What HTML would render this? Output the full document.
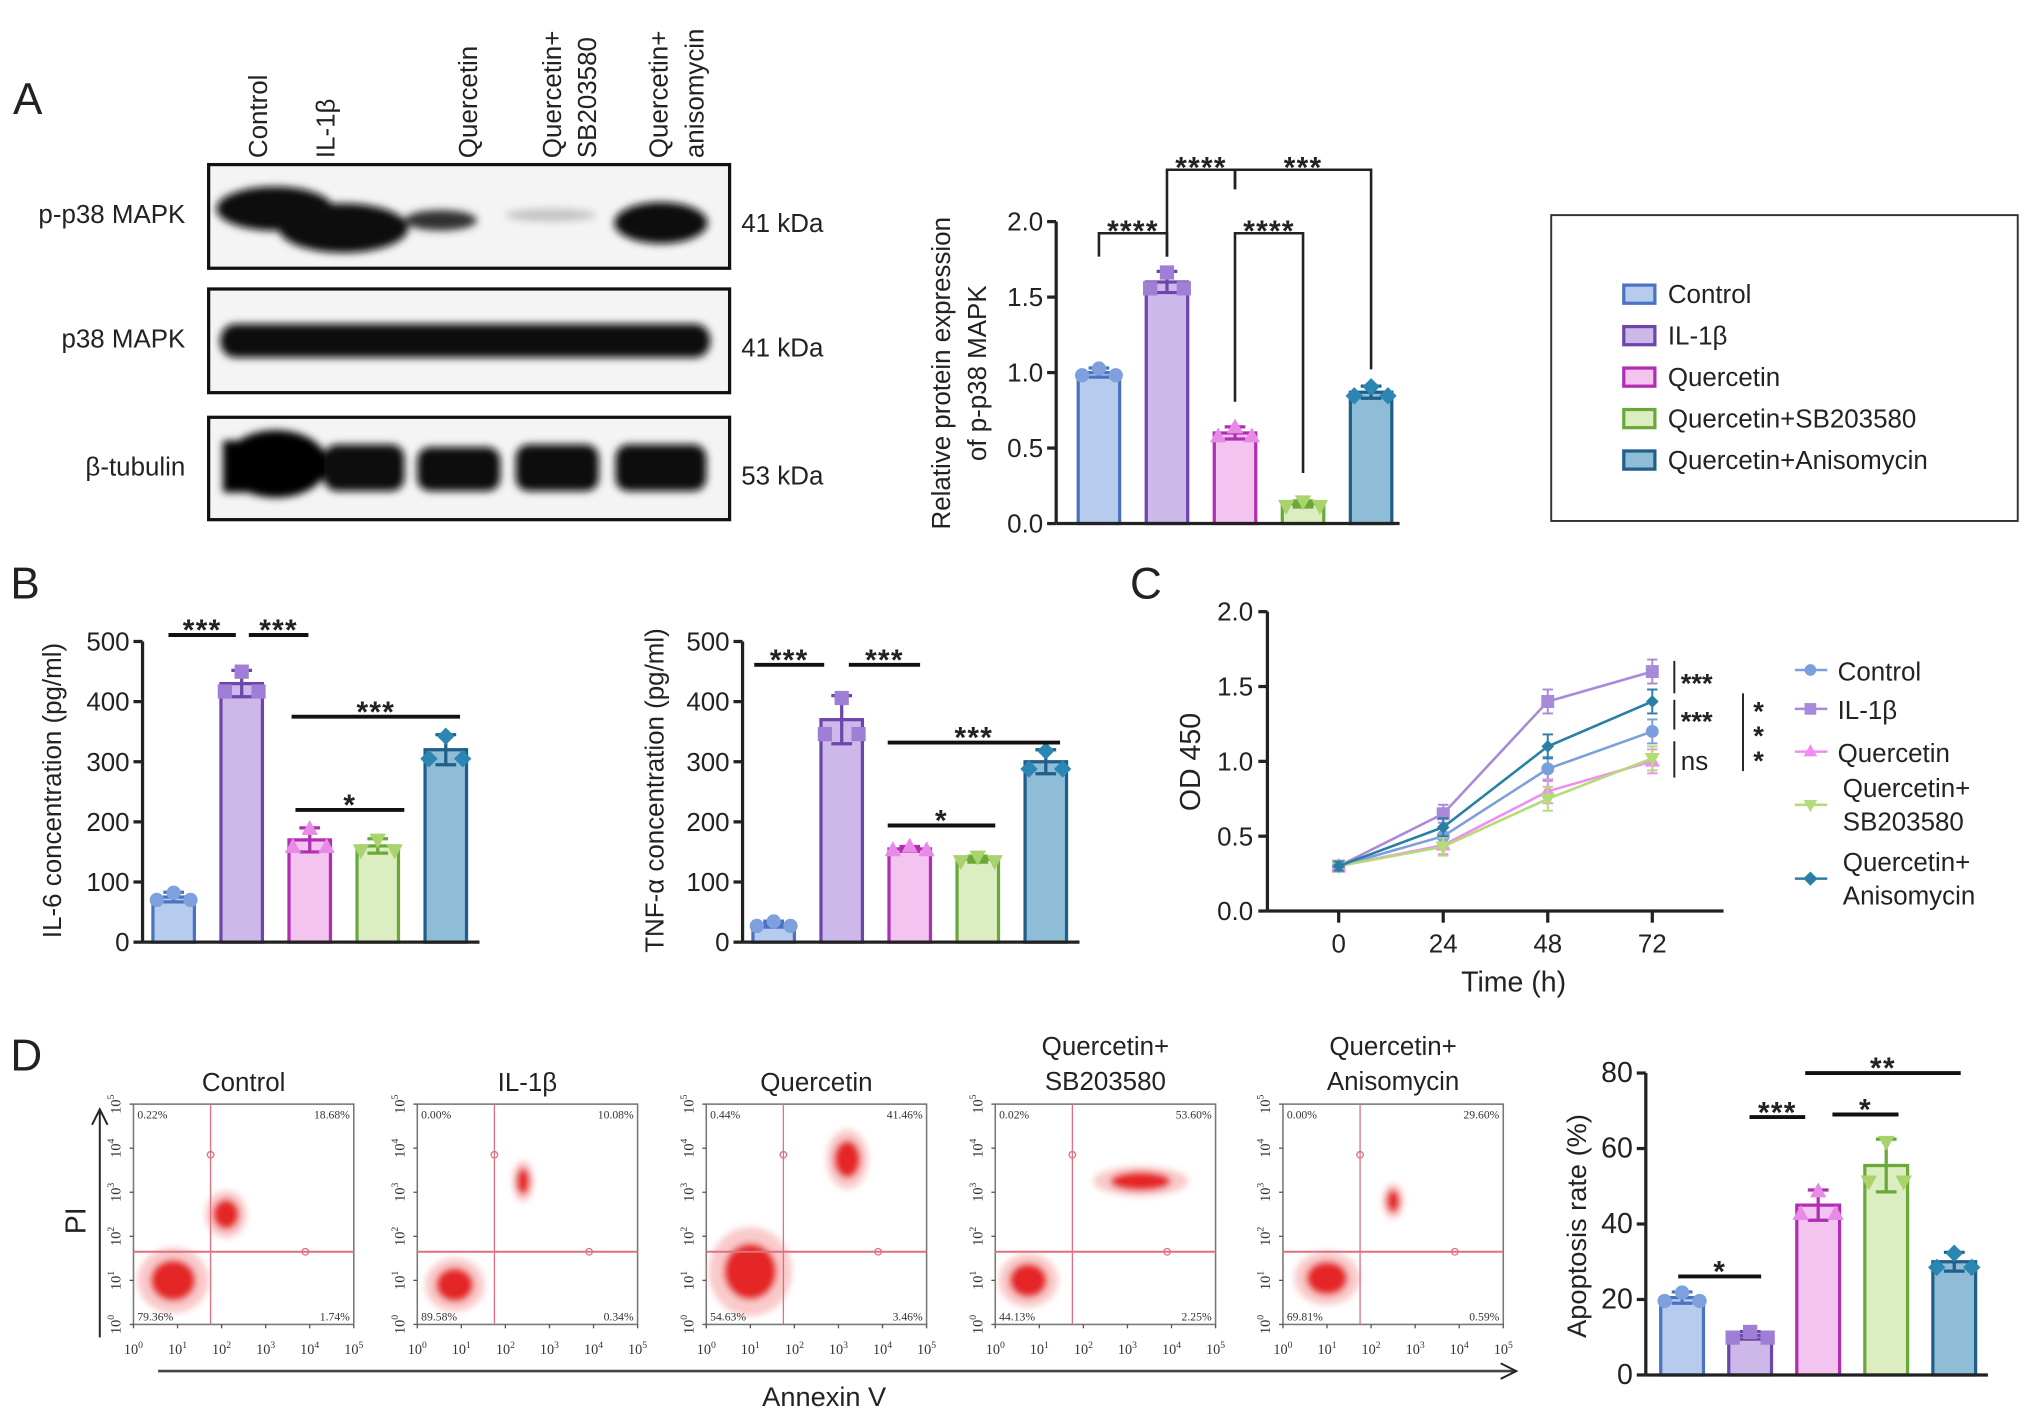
<!DOCTYPE html>
<html><head><meta charset="utf-8"><style>
html,body{margin:0;padding:0;background:#fff;}
svg{display:block;font-family:"Liberation Sans",Arial,sans-serif;}
</style></head><body>
<svg id="fig" width="2032" height="1418" viewBox="0 0 1568 1094.2" preserveAspectRatio="none" xmlns="http://www.w3.org/2000/svg">
<rect width="1568" height="1095" fill="#fff"/>
<g id="root"></g>
</svg>
<script>
// ---------- data ----------
const groups = ["Control","IL-1β","Quercetin","Quercetin+SB203580","Quercetin+Anisomycin"];
const fills = ["#b6cbee","#cdb9e9","#f4c4f0","#dcedc1","#8fbcd6"];
const strokes = ["#4a74c2","#6c46aa","#b12eb2","#6aa83a","#1f5f88"];
const markers = ["circle","square","triUp","triDown","diamond"];

const pp38Values = [1.0, 1.6, 0.6, 0.13, 0.87];
const pp38Errors = [0.03, 0.07, 0.04, 0.02, 0.04];
const pp38Ticks = [0, 0.5, 1.0, 1.5, 2.0];
const pp38TickLabels = ["0.0","0.5","1.0","1.5","2.0"];

const il6Values = [75, 430, 170, 160, 320];
const il6Errors = [8, 22, 20, 12, 25];
const tnfValues = [30, 370, 155, 138, 300];
const tnfErrors = [5, 40, 4, 5, 20];
const concTicks = [0,100,200,300,400,500];

const odTimes = [0, 24, 48, 72];
const odTickLabels = ["0","24","48","72"];
const odControl = [0.3, 0.5, 0.95, 1.2];
const odIL1b = [0.3, 0.65, 1.4, 1.6];
const odQuer = [0.3, 0.44, 0.8, 1.0];
const odSB = [0.3, 0.43, 0.75, 1.02];
const odAniso = [0.3, 0.56, 1.1, 1.4];
const odErr = [0.03, 0.06, 0.08, 0.08];
const odTicks = [0, 0.5, 1.0, 1.5, 2.0];
const odTickLabelsY = ["0.0","0.5","1.0","1.5","2.0"];

const apoValues = [20.5, 10.5, 45, 55.5, 30];
const apoErrors = [1.5, 1, 4, 7, 2.5];
const apoTicks = [0,20,40,60,80];

const flowTitles = ["Control","IL-1β","Quercetin","Quercetin+|SB203580","Quercetin+|Anisomycin"];
const flowUL = ["0.22%","0.00%","0.44%","0.02%","0.00%"];
const flowUR = ["18.68%","10.08%","41.46%","53.60%","29.60%"];
const flowLL = ["79.36%","89.58%","54.63%","44.13%","69.81%"];
const flowLR = ["1.74%","0.34%","3.46%","2.25%","0.59%"];

// ---------- helpers ----------
const NS="http://www.w3.org/2000/svg";
const root=document.getElementById('root');
function el(tag,attrs,parent,text){const e=document.createElementNS(NS,tag);for(const k in attrs)e.setAttribute(k,attrs[k]);if(text!==undefined)e.textContent=text;(parent||root).appendChild(e);return e;}
function txt(x,y,s,size,anchor,parent,extra){const t=el('text',Object.assign({x:x,y:y,'font-size':size,'text-anchor':anchor||'start',fill:'#222'},extra||{}),parent,s);return t;}
function marker(g,type,x,y,r,fill,stroke){
  let m;
  if(type==="circle")m=el('circle',{cx:x,cy:y,r:r,fill:fill,stroke:stroke,'stroke-width':1},g);
  else if(type==="square")m=el('rect',{x:x-r,y:y-r,width:2*r,height:2*r,fill:fill,stroke:stroke,'stroke-width':1},g);
  else if(type==="triUp")m=el('polygon',{points:`${x},${y-r*1.2} ${x-r*1.1},${y+r*0.8} ${x+r*1.1},${y+r*0.8}`,fill:fill,stroke:stroke,'stroke-width':1},g);
  else if(type==="triDown")m=el('polygon',{points:`${x},${y+r*1.2} ${x-r*1.1},${y-r*0.8} ${x+r*1.1},${y-r*0.8}`,fill:fill,stroke:stroke,'stroke-width':1},g);
  else m=el('polygon',{points:`${x},${y-r*1.2} ${x+r*1.2},${y} ${x},${y+r*1.2} ${x-r*1.2},${y}`,fill:fill,stroke:stroke,'stroke-width':1},g);
  
  
  return m;
}

function barChart(o){
  const g=el('g',{});
  
  
  const y=v=>o.y0-(v-o.vmin)/(o.vmax-o.vmin)*(o.y0-o.y1);
  const x=i=>o.xStart+o.step*i;
  o.values.forEach((v,i)=>{
    const r=el('rect',{x:x(i)-o.bw/2,y:y(v),width:o.bw,height:o.y0-y(v),fill:fills[i],stroke:strokes[i],'stroke-width':2.5},g);
    
    
    const e=o.errors[i];
    el('line',{x1:x(i),x2:x(i),y1:y(v+e),y2:y(v-e),stroke:strokes[i],'stroke-width':2.5},g);
    el('line',{x1:x(i)-8,x2:x(i)+8,y1:y(v+e),y2:y(v+e),stroke:strokes[i],'stroke-width':2.5},g);
    el('line',{x1:x(i)-8,x2:x(i)+8,y1:y(v-e),y2:y(v-e),stroke:strokes[i],'stroke-width':2.5},g);
    [-1,0,1].forEach(k=>{
      const dv=k===0?e*0.9:-e*0.6;
      const mf=i===0?"#7ea0dc":i===1?"#9f7fd6":i===2?"#e88be6":i===3?"#a9d36d":"#2b86b4";
      marker(g,markers[i],x(i)+k*(o.bw/2-3),y(v+dv),o.mr,mf,mf);
    });
  });
  el('line',{x1:o.x0,x2:o.x0,y1:o.y1,y2:o.y0,stroke:'#222','stroke-width':2.5},g);
  el('line',{x1:o.x0,x2:o.xEnd,y1:o.y0,y2:o.y0,stroke:'#222','stroke-width':2.5},g);
  o.ticks.forEach((t,i)=>{
    el('line',{x1:o.x0-7,x2:o.x0,y1:y(t),y2:y(t),stroke:'#222','stroke-width':2.5},g);
    const tl=txt(o.x0-10,y(t)+7,o.tickLabels?o.tickLabels[i]:String(t),o.fs||20,'end',g);
    
    
  });
  o.ylabel.forEach((s,k)=>{
    const lx=o.ylabelX+k*o.ylabelGap;
    const t=txt(lx,o.ylabelY,s,o.lfs||20,'middle',g,{transform:`rotate(-90 ${lx} ${o.ylabelY})`});
    
    
  });
  (o.sig||[]).forEach(s=>{
    const sg=el('g',{},g);
    
    
    const xa=s.xa!==undefined?s.xa:x(s.a), xb=s.xb!==undefined?s.xb:x(s.b);
    if(s.bracket){
      el('polyline',{points:`${xa},${s.da} ${xa},${s.y} ${xb},${s.y} ${xb},${s.db}`,fill:'none',stroke:'#222','stroke-width':2},sg);
    } else el('line',{x1:xa,x2:xb,y1:s.y,y2:s.y,stroke:'#111','stroke-width':3},sg);
    txt((xa+xb)/2,s.y+(s.bracket?6:4),s.label,23,'middle',sg,{'font-weight':'bold','letter-spacing':'1'});
  });
  return {x,y};
}

[["A",10,88],["B",8,462],["C",872,462],["D",8,826]].forEach(p=>{
  const t=txt(p[1],p[2],p[0],34,'start');
  
  
});

// ---------- Western blot ----------
(function(){
  const g=el('g',{});
  
  
  const defs=el('defs',{},g);
  const f=el('filter',{id:'blur',x:'-20%',y:'-50%',width:'140%',height:'200%'},defs);
  el('feGaussianBlur',{stdDeviation:'3'},f);
  const laneLabels=[["Control"],["IL-1β"],["Quercetin"],["Quercetin+","SB203580"],["Quercetin+","anisomycin"]];
  const lx=[[198],[250],[360],[425,452],[507,535]];
  laneLabels.forEach((ls,i)=>ls.forEach((s,k)=>{
    const t=txt(lx[i][k]+8,122,s,20,'start',g,{transform:`rotate(-90 ${lx[i][k]+8} 122)`});
    
    
  }));
  const boxes=[[127,207,"p-p38 MAPK","41 kDa"],[223,303,"p38 MAPK","41 kDa"],[322,401,"β-tubulin","53 kDa"]];
  boxes.forEach((b,j)=>{
    el('rect',{x:161,y:b[0],width:402,height:b[1]-b[0],fill:'#f4f4f4',stroke:'#111','stroke-width':2.5},g);
    const lt=txt(143,b[0]+45,b[2],20,'end',g);
    
    
    const kt=txt(572,b[0]+52,b[3],20,'start',g);
    
    
  });
  const bg=el('g',{filter:'url(#blur)'},g);
  el('ellipse',{cx:212,cy:161,rx:45,ry:17,fill:'#111'},bg);
  el('ellipse',{cx:265,cy:176,rx:50,ry:19,fill:'#0a0a0a'},bg);
  el('ellipse',{cx:340,cy:170,rx:28,ry:8,fill:'#333'},bg);
  el('ellipse',{cx:425,cy:166,rx:35,ry:5,fill:'#c4c4c4'},bg);
  el('ellipse',{cx:510,cy:172,rx:36,ry:16,fill:'#111'},bg);
  el('rect',{x:170,y:250,width:378,height:26,rx:12,fill:'#0d0d0d'},bg);
  el('rect',{x:172,y:340,width:40,height:40,fill:'#050505'},bg);
  el('ellipse',{cx:213,cy:358,rx:40,ry:26,fill:'#050505'},bg);
  el('rect',{x:250,y:343,width:62,height:36,rx:10,fill:'#080808'},bg);
  el('rect',{x:322,y:345,width:64,height:34,rx:10,fill:'#080808'},bg);
  el('rect',{x:398,y:343,width:64,height:36,rx:10,fill:'#080808'},bg);
  el('rect',{x:475,y:343,width:70,height:36,rx:10,fill:'#080808'},bg);
})();

barChart({name:'p-p38-bar-chart',values:pp38Values,errors:pp38Errors,vmin:0,vmax:2,y0:404,y1:171,x0:815,xEnd:1080,xStart:848,step:52.5,bw:32,mr:5,
  ticks:pp38Ticks,tickLabels:pp38TickLabels,ylabel:["Relative protein expression","of p-p38 MAPK"],ylabelX:733,ylabelGap:28,ylabelY:288,
  sig:[{a:0,b:1,y:180,da:198,db:198,bracket:true,label:"****"},
       {a:1,b:2,y:131,da:198,db:146,bracket:true,label:"****"},
       {xa:953,xb:1058,y:131,da:146,db:285,bracket:true,label:"***"},
       {a:2,b:3,y:180,da:310,db:365,bracket:true,label:"****"}]});

(function(){
  const g=el('g',{});
  
  
  el('rect',{x:1197,y:166,width:360,height:236,fill:'#fff',stroke:'#333','stroke-width':1.5},g);
  groups.forEach((s,i)=>{
    const yy=227+i*32;
    const e=el('g',{},g);
    
    
    el('rect',{x:1253,y:yy-7,width:24,height:14,fill:fills[i],stroke:strokes[i],'stroke-width':2.5},e);
    txt(1287,yy+7,s,20,'start',e);
  });
})();

barChart({name:'il6-bar-chart',values:il6Values,errors:il6Errors,vmin:0,vmax:500,y0:727,y1:495,x0:110,xEnd:370,xStart:134,step:52.5,bw:32,mr:5,
  ticks:concTicks,ylabel:["IL-6 concentration (pg/ml)"],ylabelX:47,ylabelGap:0,ylabelY:610,
  sig:[{xa:130,xb:182,y:490,label:"***"},{xa:192,xb:238,y:490,label:"***"},{xa:225,xb:355,y:553,label:"***"},{xa:228,xb:312,y:625,label:"*"}]});
barChart({name:'tnf-bar-chart',values:tnfValues,errors:tnfErrors,vmin:0,vmax:500,y0:727,y1:495,x0:573,xEnd:833,xStart:597,step:52.5,bw:32,mr:5,
  ticks:concTicks,ylabel:["TNF-α concentration (pg/ml)"],ylabelX:512,ylabelGap:0,ylabelY:610,
  sig:[{xa:582,xb:636,y:513,label:"***"},{xa:655,xb:710,y:513,label:"***"},{xa:685,xb:818,y:573,label:"***"},{xa:685,xb:768,y:637,label:"*"}]});

// ---------- C ----------
(function(){
  const g=el('g',{});
  
  
  const x=t=>1033+(t/72)*(1275-1033);
  const y=v=>703-v/2*(703-472);
  const series=[odControl,odIL1b,odQuer,odSB,odAniso];
  const lc=["#7c9fdc","#a98ad8","#ef8ef0","#b3dc78","#2b7fa6"];
  el('line',{x1:978,x2:978,y1:472,y2:703,stroke:'#222','stroke-width':2.5},g);
  el('line',{x1:978,x2:1330,y1:703,y2:703,stroke:'#222','stroke-width':2.5},g);
  odTicks.forEach((t,i)=>{el('line',{x1:971,x2:978,y1:y(t),y2:y(t),stroke:'#222','stroke-width':2.5},g);
    const tl=txt(967,y(t)+7,odTickLabelsY[i],20,'end',g);});
  odTimes.forEach((t,i)=>{el('line',{x1:x(t),x2:x(t),y1:703,y2:712,stroke:'#222','stroke-width':2.5},g);
    const tl=txt(x(t),735,odTickLabels[i],20,'middle',g);});
  const xt=txt(1168,765,"Time (h)",22,'middle',g);
  const yt=txt(926,588,"OD 450",22,'middle',g,{transform:'rotate(-90 926 588)'});
  series.forEach((s,si)=>{
    const sg=el('g',{},g);
    
    
    el('polyline',{points:s.map((v,i)=>x(odTimes[i])+','+y(v)).join(' '),fill:'none',stroke:lc[si],'stroke-width':2},sg);
    s.forEach((v,i)=>{
      const e=odErr[i];
      el('line',{x1:x(odTimes[i]),x2:x(odTimes[i]),y1:y(v-e),y2:y(v+e),stroke:lc[si],'stroke-width':1.5},sg);
      el('line',{x1:x(odTimes[i])-4,x2:x(odTimes[i])+4,y1:y(v+e),y2:y(v+e),stroke:lc[si],'stroke-width':1.5},sg);
      el('line',{x1:x(odTimes[i])-4,x2:x(odTimes[i])+4,y1:y(v-e),y2:y(v-e),stroke:lc[si],'stroke-width':1.5},sg);
      marker(sg,markers[si],x(odTimes[i]),y(v),si===4?3.5:4.5,lc[si],lc[si]);
    });
  });
  const sg=el('g',{},g);
  
  
  [[510,535,"***"],[540,563,"***"],[572,600,"ns"]].forEach(s=>{
    el('line',{x1:1292,x2:1292,y1:s[0],y2:s[1],stroke:'#222','stroke-width':1.5},sg);
    txt(1297,(s[0]+s[1])/2+(s[2]==="ns"?8:12),s[2],s[2]==="ns"?20:21,'start',sg,{'font-weight':s[2]==="ns"?'normal':'bold'});
  });
  el('line',{x1:1345,x2:1345,y1:535,y2:595,stroke:'#222','stroke-width':1.5},sg);
  ["*","*","*"].forEach((s,k)=>txt(1357,556+k*19,s,21,'middle',sg,{'font-weight':'bold'}));
  const lg=el('g',{},g);
  
  
  const ent=[[517,["Control"]],[547,["IL-1β"]],[580,["Quercetin"]],[621,["Quercetin+","SB203580"]],[678,["Quercetin+","Anisomycin"]]];
  ent.forEach((e,i)=>{
    const eg=el('g',{},lg);
    
    
    el('line',{x1:1385,x2:1410,y1:e[0],y2:e[0],stroke:lc[i],'stroke-width':2},eg);
    marker(eg,markers[i],1397,e[0],4,lc[i],lc[i]);
    if(e[1].length===1) txt(1418,e[0]+8,e[1][0],20,'start',eg);
    else {txt(1422,e[0]-6,e[1][0],20,'start',eg);txt(1422,e[0]+20,e[1][1],20,'start',eg);}
  });
})();

// ---------- D flow ----------
(function(){
  const g=el('g',{});
  
  
  const defs=el('defs',{},g);
  const f=el('filter',{id:'sblur',x:'-50%',y:'-50%',width:'200%',height:'200%'},defs);
  el('feGaussianBlur',{stdDeviation:'2.5'},f);
  const px=[103,322,545,768,990];
  const W=170,H=170,Y0=852;
  const clouds=[[[0.18,0.8,0.12,0.11],[0.42,0.5,0.07,0.08]],[[0.17,0.82,0.1,0.09],[0.48,0.35,0.035,0.07]],[[0.2,0.76,0.14,0.15],[0.64,0.25,0.07,0.1]],[[0.15,0.8,0.1,0.09],[0.66,0.35,0.16,0.05]],[[0.2,0.79,0.11,0.09],[0.5,0.44,0.035,0.06]]];
  px.forEach((x0,i)=>{
    const pg=el('g',{},g);
    
    
    el('rect',{x:x0,y:Y0,width:W,height:H,fill:'#fff',stroke:'#777','stroke-width':1.2},pg);
    const cg=el('g',{filter:'url(#sblur)'},pg);
    clouds[i].forEach(c=>{
      el('ellipse',{cx:x0+c[0]*W,cy:Y0+c[1]*H,rx:c[2]*W*1.35,ry:c[3]*H*1.35,fill:'#f6b4b4',opacity:0.7},cg);
      el('ellipse',{cx:x0+c[0]*W,cy:Y0+c[1]*H,rx:c[2]*W*0.85,ry:c[3]*H*0.85,fill:'#e52525'},cg);
    });
    const qx=x0+0.35*W, qy=Y0+0.67*H;
    el('line',{x1:qx,x2:qx,y1:Y0,y2:Y0+H,stroke:'#e07080','stroke-width':1},pg);
    el('line',{x1:x0,x2:x0+W,y1:qy,y2:qy,stroke:'#e07080','stroke-width':1.5},pg);
    el('circle',{cx:qx,cy:Y0+0.23*H,r:2.5,fill:'none',stroke:'#e07080'},pg);
    el('circle',{cx:x0+0.78*W,cy:qy,r:2.5,fill:'none',stroke:'#e07080'},pg);
    const sf={fill:'#333','font-family':'"Liberation Serif",serif'};
    txt(x0+3,Y0+11,flowUL[i],9,'start',pg,sf);
    txt(x0+W-3,Y0+11,flowUR[i],9,'end',pg,sf);
    txt(x0+3,Y0+H-3,flowLL[i],9,'start',pg,sf);
    txt(x0+W-3,Y0+H-3,flowLR[i],9,'end',pg,sf);
    for(let k=0;k<=5;k++){
      const tx=x0+k*W/5, ty=Y0+H-k*H/5;
      const a=txt(tx,Y0+H+23,'10',11,'middle',pg,sf);
      el('tspan',{dy:-5,'font-size':7.5},a,String(k));
      const yy=txt(x0-10,ty,'10',11,'middle',pg,Object.assign({transform:`rotate(-90 ${x0-10} ${ty})`},sf));
      el('tspan',{dy:-5,'font-size':7.5},yy,String(k));
      el('line',{x1:tx,x2:tx,y1:Y0+H,y2:Y0+H+3,stroke:'#555'},pg);
      el('line',{x1:x0-3,x2:x0,y1:ty,y2:ty,stroke:'#555'},pg);
    }
    const tt=flowTitles[i].split('|');
    if(tt.length===1) txt(x0+W/2,842,tt[0],20,'middle',pg);
    else {txt(x0+W/2,814,tt[0],20,'middle',pg);txt(x0+W/2,841,tt[1],20,'middle',pg);}
  });
  el('line',{x1:77,x2:77,y1:1032,y2:858,stroke:'#222','stroke-width':1.5},g);
  el('polyline',{points:'71,868 77,856 83,868',fill:'none',stroke:'#222','stroke-width':1.5},g);
  const pi=txt(66,942,"PI",22,'middle',g,{transform:'rotate(-90 66 942)'});
  
  el('line',{x1:122,x2:1170,y1:1058,y2:1058,stroke:'#444','stroke-width':2},g);
  el('polyline',{points:'1158,1052 1170,1058 1158,1064',fill:'none',stroke:'#222','stroke-width':1.5},g);
  const an=txt(636,1085,"Annexin V",21,'middle',g);
  
})();

barChart({name:'apoptosis-bar-chart',values:apoValues,errors:apoErrors,vmin:0,vmax:80,y0:1061,y1:828,x0:1270,xEnd:1534,xStart:1298,step:52.5,bw:33,mr:5,
  ticks:apoTicks,ylabel:["Apoptosis rate (%)"],ylabelX:1224,ylabelGap:0,ylabelY:946,fs:22,lfs:21,
  sig:[{xa:1295,xb:1359,y:985,label:"*"},{xa:1350,xb:1393,y:862,label:"***"},{xa:1414,xb:1465,y:860,label:"*"},{xa:1393,xb:1513,y:828,label:"**"}]});
</script>
</body></html>
